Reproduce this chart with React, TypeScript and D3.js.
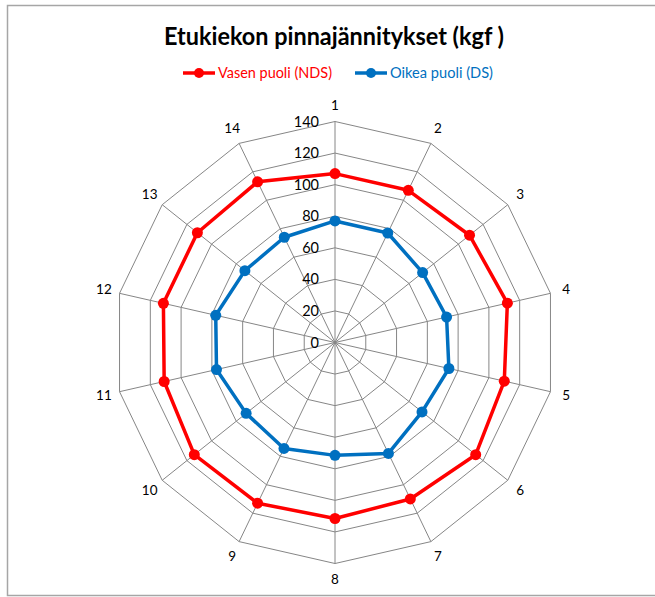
import React from "react";
import * as d3 from "d3";

const axes = ["1","2","3","4","5","6","7","8","9","10","11","12","13","14"];
const leftSide = [107, 107, 109, 112, 110, 114, 110, 111.5, 113, 114, 111, 111.5, 111.5, 113];
const rightSide = [77, 77, 71, 72.5, 74, 70.5, 78, 71.5, 74.5, 72, 77, 77.5, 73, 74];
const ticks = [0, 20, 40, 60, 80, 100, 120, 140];
const seriesNames = ["Vasen puoli (NDS)", "Oikea puoli (DS)"];
const seriesColors = ["#FF0000", "#0070C0"];
const title = "Etukiekon pinnajännitykset (kgf )";

export default function App() {
  const W = 655, H = 597;
  const cx = 335, cy = 342.5, R = 221;
  const r = d3.scaleLinear().domain([0, 140]).range([0, R]);
  const n = axes.length;
  const ang = d3.scaleLinear().domain([0, n]).range([0, 2 * Math.PI]);
  const pt = (i: number, v: number): [number, number] => {
    const a = ang(i);
    return [cx + r(v) * Math.sin(a), cy - r(v) * Math.cos(a)];
  };
  const ring = (v: number) => {
    const pts = axes.map((_, i) => pt(i, v));
    return d3.line()(pts.concat([pts[0]])) as string;
  };
  const series = [leftSide, rightSide];
  const font = "Lato, 'Open Sans', sans-serif";
  return (
    <svg width={W} height={H} style={{ position: "absolute", left: 0, top: 0 }}>
      <rect x={0} y={0} width={W} height={H} fill="#fff" />
      <rect x={7.5} y={5.5} width={660} height={590} fill="none" stroke="#A6A6A6" strokeWidth={1.5} />
      <text x={334} y={45} textAnchor="middle" fontFamily={font} fontWeight="bold" fontSize={25} textLength={340} lengthAdjust="spacingAndGlyphs" fill="#000">{title}</text>
      {series.map((s, k) => {
        const lx = k === 0 ? 183 : 355;
        const tw = k === 0 ? 114 : 103;
        return (
          <g key={k}>
            <line x1={lx} x2={lx + 32} y1={73} y2={73} stroke={seriesColors[k]} strokeWidth={3.5} />
            <circle cx={lx + 16} cy={73} r={5} fill={seriesColors[k]} />
            <text x={lx + 35} y={78} fontFamily={font} fontSize={14.5} textLength={tw} lengthAdjust="spacingAndGlyphs" fill={seriesColors[k]}>{seriesNames[k]}</text>
          </g>
        );
      })}
      <g stroke="#868686" fill="none" strokeWidth={1}>
        {ticks.slice(1).map(t => <path key={t} d={ring(t)} />)}
        {axes.map((_, i) => {
          const [x, y] = pt(i, 140);
          return <line key={i} x1={cx} y1={cy} x2={x} y2={y} />;
        })}
      </g>
      {ticks.map(t => (
        <text key={t} x={319} y={cy - r(t) + 5} textAnchor="end" fontFamily={font} fontSize={14.5} fill="#000">{t}</text>
      ))}
      {axes.map((a, i) => {
        const ang2 = ang(i);
        const x = cx + (R + 16) * Math.sin(ang2);
        const y = cy - (R + 16) * Math.cos(ang2);
        return <text key={a} x={x} y={y + 4.5} textAnchor="middle" fontFamily={font} fontSize={13.5} fill="#000">{a}</text>;
      })}
      {series.map((s, k) => {
        const pts = s.map((v, i) => pt(i, v));
        return (
          <g key={k}>
            <path d={d3.line()(pts.concat([pts[0]])) as string} fill="none" stroke={seriesColors[k]} strokeWidth={3.5} strokeLinejoin="round" />
            {pts.map((p, i) => <circle key={i} cx={p[0]} cy={p[1]} r={5.5} fill={seriesColors[k]} />)}
          </g>
        );
      })}
    </svg>
  );
}
